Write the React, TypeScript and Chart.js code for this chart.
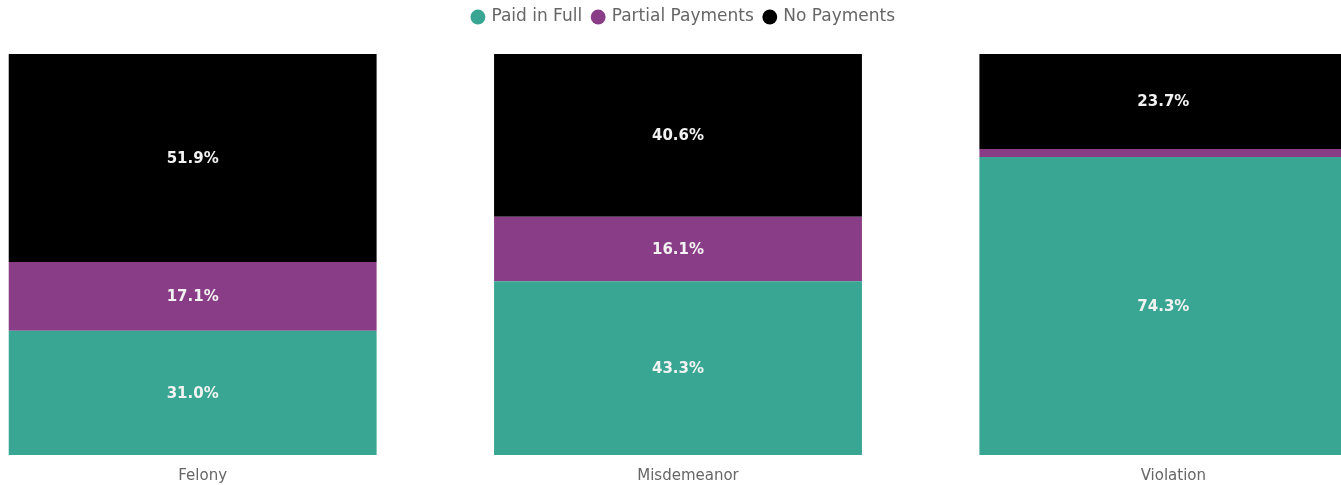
import React, { useEffect, useRef } from "react";
import { Chart, registerables } from "chart.js";

Chart.register(...registerables);

const categories = ["Felony", "Misdemeanor", "Violation"];
const paidInFull = [31.0, 43.3, 74.3];
const partialPayments = [17.1, 16.1, 2.0];
const noPayments = [51.9, 40.6, 23.7];
const seriesNames = ["Paid in Full", "Partial Payments", "No Payments"];
const seriesColors = ["#38a693", "#8a3d87", "#000000"];

const FONT = "'DejaVu Sans', sans-serif";

const labelPlugin = {
  id: "segLabels",
  afterDatasetsDraw(chart: any) {
    const ctx = chart.ctx;
    ctx.save();
    ctx.font = "bold 15px " + FONT;
    ctx.fillStyle = "#f2f2f2";
    ctx.textAlign = "center";
    ctx.textBaseline = "middle";
    chart.data.datasets.forEach((ds: any, di: number) => {
      const meta = chart.getDatasetMeta(di);
      meta.data.forEach((bar: any, i: number) => {
        const v = ds.data[i];
        if (v < 5) return;
        const p = bar.getProps(["x", "y", "base"], true);
        ctx.fillText(v.toFixed(1) + "%", p.x, (p.y + p.base) / 2 + 1);
      });
    });
    ctx.restore();
  },
};

const legendTweak = {
  id: "legendTweak",
  beforeInit(chart: any) {
    const legend = chart.legend;
    const origFit = legend.fit;
    legend.fit = function () {
      origFit.call(this);
      this.height = 54;
    };
    const origDraw = legend.draw;
    legend.draw = function () {
      const ctx = this.ctx;
      ctx.save();
      ctx.translate(6, -2.5);
      origDraw.call(this);
      ctx.restore();
    };
  },
};

export default function App() {
  const ref = useRef<HTMLCanvasElement | null>(null);
  useEffect(() => {
    if (!ref.current) return;
    const chart = new Chart(ref.current, {
      type: "bar",
      data: {
        labels: categories,
        datasets: [
          { label: seriesNames[0], data: paidInFull, backgroundColor: seriesColors[0] },
          { label: seriesNames[1], data: partialPayments, backgroundColor: seriesColors[1] },
          { label: seriesNames[2], data: noPayments, backgroundColor: seriesColors[2] },
        ],
      },
      options: {
        animation: false,
        responsive: false,
        maintainAspectRatio: false,
        layout: { padding: 0 },
        datasets: { bar: { categoryPercentage: 0.758, barPercentage: 1 } },
        plugins: {
          legend: {
            position: "top",
            labels: {
              usePointStyle: true,
              pointStyle: "circle",
              boxWidth: 10,
              boxHeight: 10.5,
              color: "#666",
              padding: 11,
              font: { size: 17, family: FONT },
            },
          },
          tooltip: { enabled: false },
        },
        scales: {
          x: {
            stacked: true,
            grid: { display: false, drawTicks: false },
            border: { display: false },
            afterFit: (axis: any) => {
              axis.height = 30;
            },
            ticks: {
              color: "#666",
              padding: 12,
              labelOffset: 10,
              font: { size: 15, family: FONT },
            },
          },
          y: { stacked: true, display: false, min: 0, max: 100 },
        },
      },
      plugins: [labelPlugin, legendTweak],
    });
    return () => chart.destroy();
  }, []);
  return (
    <div style={{ position: "fixed", left: 0, top: 0, width: "100vw", height: "100vh", overflow: "hidden", background: "#fff" }}>
      <canvas ref={ref} width={1456} height={485} style={{ position: "absolute", left: -50, top: 0, width: 1456, height: 485 }} />
    </div>
  );
}
